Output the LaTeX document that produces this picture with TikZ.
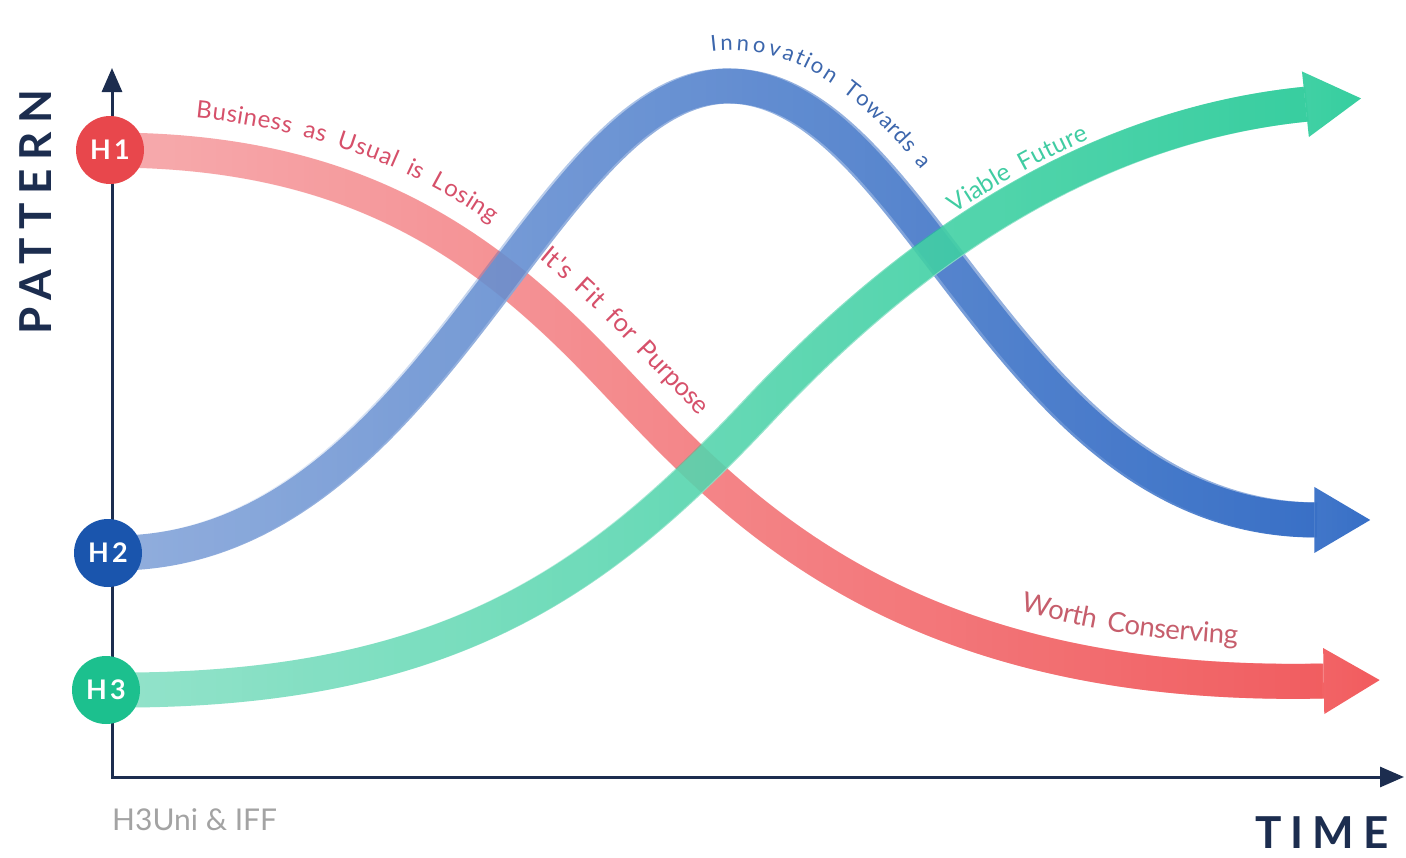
\documentclass[tikz,border=0pt]{standalone}
\usepackage{fontspec}
\setmainfont{Lato}
\newfontfamily\axisfont[LetterSpace=20]{Lato}
\newfontfamily\hfont[LetterSpace=12]{Lato}
\newfontfamily\lblfont[LetterSpace=19]{Lato}
\usetikzlibrary{arrows.meta,decorations.text,fadings}
\pgfdeclarelayer{bg}
\pgfsetlayers{bg,main}
\definecolor{axiscol}{HTML}{1C2D4F}
\definecolor{hone}{HTML}{E8474C}
\definecolor{htwo}{HTML}{1A55AD}
\definecolor{hthree}{HTML}{1CC08E}
\definecolor{redlight}{HTML}{F6A4A7}
\definecolor{reddark}{HTML}{F0474A}
\definecolor{bluelight}{HTML}{88A7DA}
\definecolor{bluedark}{HTML}{1E5DBF}
\definecolor{greenlight}{HTML}{8AE1C6}
\definecolor{greendark}{HTML}{1DC893}
\definecolor{lblred}{HTML}{D6506A}
\definecolor{lblredgray}{HTML}{C65E6C}
\definecolor{lblblue}{HTML}{3C66AC}
\definecolor{lblgreen}{HTML}{40CCA2}
\definecolor{srcgray}{HTML}{A3A3A3}
\tikzfading[name=fadein, left color=transparent!100, right color=transparent!0]
\newcommand\lblr{\lblfont\fontsize{24}{26}\selectfont\color{lblred}}
\newcommand\lblp{\lblfont\fontsize{25.5}{28}\selectfont\color{lblred}}
\newcommand\lblw{\lblfont\fontsize{27.5}{30}\selectfont\color{lblredgray}}
\newcommand\lblb{\lblfont\fontsize{22}{26}\selectfont\color{lblblue}}
\newcommand\lblg{\lblfont\fontsize{24.5}{26}\selectfont\color{lblgreen}}
% #1 light colour, #2 dark colour, #3 curve, #4 tip coordinate
\newcommand\gradband[4]{%
  \begin{scope}[transparency group, opacity=0.9]
    \draw[band, draw=#1] #3;
    \draw[band, bandtip, draw=#2, path fading=fadein] #3 -- #4;
  \end{scope}}
\begin{document}
\begin{tikzpicture}[x=1pt,y=-1pt,
  axisline/.style={draw=axiscol, line width=3pt, line join=miter},
  hcirc/.style={circle, minimum size=68pt, inner sep=0pt, text=white,
    font=\hfont\bfseries\fontsize{27}{27}\selectfont},
  band/.style={line width=35pt},
  bandtip/.style={-{Triangle[length=56pt,width=66pt,line width=0pt]}},
  lbl/.style={decorate, decoration={text along path, raise=36pt,
    text format delimiters={|}{|}}},
]
\useasboundingbox (0,0) rectangle (1406,857);
% nodes
\node[hcirc, fill=hone] (H1) at (110,150) {H1};
\node[hcirc, fill=htwo] (H2) at (108,553) {H2};
\node[hcirc, fill=hthree] (H3) at (106,690) {H3};
\coordinate (ytop) at (112,68);
\coordinate (org) at (112,777);
\coordinate (xend) at (1404,777);
\coordinate (rbase) at (1322,681);
\coordinate (rtip) at (1380,680);
\coordinate (bbase) at (1317,520);
\coordinate (btip) at (1375,520);
\coordinate (gbase) at (1307,104);
\coordinate (gtip) at (1364,98);
\def\redcurve{(H1.center) .. controls (350,150) and (480,240) .. (600,365) .. controls (720,490) and (880,690) .. (rbase)}
\def\bluecurve{(H2.center) .. controls (430,560) and (540,86) .. (730,86) .. controls (920,86) and (1010,517) .. (bbase)}
\def\greencurve{(H3.center) .. controls (450,693) and (600,580) .. (760,410) .. controls (920,240) and (1100,125) .. (gbase)}
\begin{pgfonlayer}{bg}
  \draw[axisline, {Triangle[length=24pt,width=20pt]}-{Triangle[length=24pt,width=20pt]}] (ytop) -- (org) -- (xend);
  \gradband{redlight}{reddark}{\redcurve}{(rtip)}
  \gradband{bluelight}{bluedark}{\bluecurve}{(btip)}
  \gradband{greenlight}{greendark}{\greencurve}{(gtip)}
\end{pgfonlayer}
% labels along curves
\path[lbl, decoration={text align={left indent=82pt}, text={|\lblr|Business as Usual is Losing}}] \redcurve;
\path[lbl, decoration={text align={left indent=438pt}, text={|\lblp|It's Fit for Purpose}}] \redcurve;
\path[lbl, decoration={text align={left indent=1058pt}, text={|\lblw|Worth Conserving}}] \redcurve;
\path[lbl, decoration={text align={left indent=794pt}, text={|\lblb|Innovation Towards a}}] \bluecurve;
\path[lbl, decoration={raise=22pt, text align={left indent=1012pt}, text={|\lblg|Viable Future}}] \greencurve;
% axis titles
\node[rotate=90, text=axiscol, font=\axisfont\bfseries\fontsize{44}{44}\selectfont] (pat) at (36,212) {PATTERN};
\node[inner sep=0pt, text=axiscol, font=\axisfont\bfseries\fontsize{44}{44}\selectfont] (time) at (1322,833) {TIME};
\node[anchor=base west, inner sep=0pt, text=srcgray, font=\fontsize{30}{30}\selectfont] (src) at (112,830) {H3Uni \& IFF};
\end{tikzpicture}
\end{document}
